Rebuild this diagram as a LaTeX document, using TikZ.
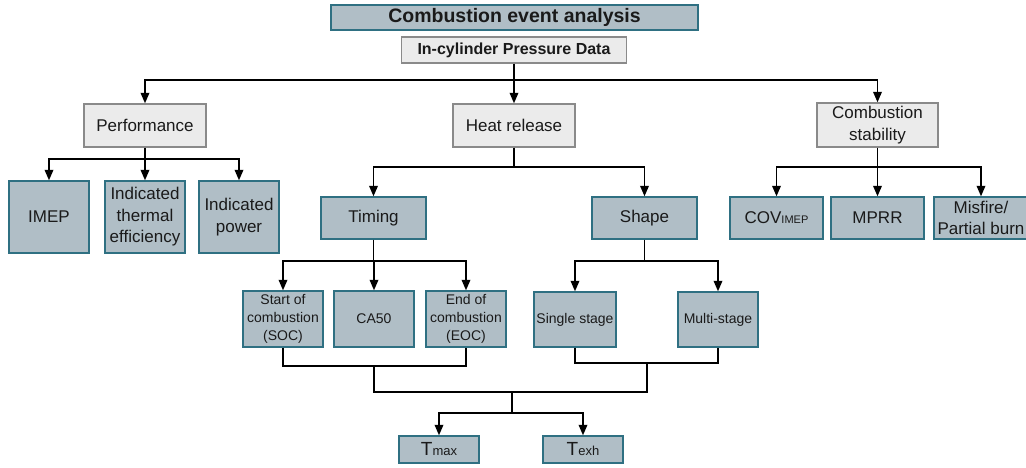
\documentclass[tikz,border=0pt]{standalone}
\usepackage{fontspec}
\setmainfont{Liberation Sans}
\usetikzlibrary{arrows.meta}
\definecolor{bluegray}{HTML}{B0BEC6}
\definecolor{tealborder}{HTML}{2F7082}
\definecolor{lightbox}{HTML}{EBEBEB}
\definecolor{grayborder}{HTML}{8A8A8A}
\definecolor{ink}{HTML}{1A1A1A}
\tikzset{
  bluebox/.style={draw=tealborder, fill=bluegray, line width=1.3pt, inner sep=0pt, align=center, text=ink},
  graybox/.style={draw=grayborder, fill=lightbox, line width=1.3pt, inner sep=0pt, align=center, text=ink},
  big/.style={font=\fontsize{17}{21.5}\selectfont},
  small/.style={font=\fontsize{14}{18}\selectfont},
  ln/.style={draw=black, line width=1.8pt},
  arr/.style={ln, -{Triangle[length=10.5pt,width=8.5pt]}},
  sz/.style 2 args={minimum width=#1pt, minimum height=#2pt}
}
\begin{document}
\begin{tikzpicture}[x=1pt,y=-1pt]
\useasboundingbox (0,0) rectangle (1026,468);
\clip (0,0) rectangle (1026,468);
% top
\node[bluebox, sz={367}{25}, font=\fontsize{19.5}{22}\selectfont\bfseries] (title) at (514.5,17.5) {Combustion event analysis};
\node[graybox, sz={225}{26}, font=\fontsize{16}{19}\selectfont\bfseries] (pdata) at (514,50) {In-cylinder Pressure Data};
% level 1
\node[graybox, big, sz={122}{43}] (perf) at (145,125.5) {Performance};
\node[graybox, big, sz={122}{43}] (heat) at (514,125.5) {Heat release};
\node[graybox, big, sz={121}{44}] (stab) at (877.5,125) {Combustion\\stability};
% performance children
\node[bluebox, big, sz={80}{72}] (imep) at (49,217) {IMEP};
\node[bluebox, big, sz={80}{72}] (ite) at (145,217) {Indicated\\thermal\\efficiency};
\node[bluebox, big, sz={80}{72}] (ipow) at (239,217) {Indicated\\power};
% heat children
\node[bluebox, big, sz={105}{42}] (timing) at (373.5,218) {Timing};
\node[bluebox, big, sz={105}{42}] (shape) at (644.5,218) {Shape};
% stability children
\node[bluebox, big, sz={93}{42}] (cov) at (776.5,218) {COV{\fontsize{11}{13}\selectfont IMEP}};
\node[bluebox, big, sz={93}{42}] (mprr) at (877.5,218) {MPRR};
\node[bluebox, big, sz={94}{42}] (misfire) at (981,218) {Misfire/\\Partial burn};
% timing children
\node[bluebox, small, sz={80}{56}] (soc) at (283,319) {Start of\\combustion\\(SOC)};
\node[bluebox, small, sz={80}{56}] (ca50) at (374,319) {CA50};
\node[bluebox, small, sz={80}{56}] (eoc) at (466,319) {End of\\combustion\\(EOC)};
% shape children
\node[bluebox, small, sz={82}{55}] (single) at (575,319.5) {Single stage};
\node[bluebox, small, sz={80}{55}] (multi) at (718,319.5) {Multi-stage};
% outputs
\node[bluebox, sz={80}{27}, font=\fontsize{19}{20}\selectfont] (tmax) at (439,449.5) {T{\fontsize{13}{15}\selectfont max}};
\node[bluebox, sz={80}{27}, font=\fontsize{19}{20}\selectfont] (texh) at (583,449.5) {T{\fontsize{13}{15}\selectfont exh}};
% junction coordinates
\coordinate (t0) at (514,80);
\coordinate (pj) at (145,159);
\coordinate (hj) at (514,167);
\coordinate (sj) at (877.5,167);
\coordinate (tj) at (373.5,261);
\coordinate (shj) at (644.5,261);
\coordinate (m1) at (374,366);
\coordinate (m2) at (647,363);
\coordinate (m3) at (512,392);
\coordinate (m4) at (512,413);
% connectors
\draw[ln] (pdata.south) -- (t0);
\draw[arr] (t0) -| (perf.north);
\draw[arr] (t0) -- (heat.north);
\draw[arr] (t0) -| (stab.north);
\draw[ln] (perf.south) -- (pj);
\draw[arr] (pj) -| (imep.north);
\draw[arr] (pj) -- (ite.north);
\draw[arr] (pj) -| (ipow.north);
\draw[ln] (heat.south) -- (hj);
\draw[arr] (hj) -| (timing.north);
\draw[arr] (hj) -| (shape.north);
\draw[ln] (stab.south) -- (sj);
\draw[arr] (sj) -| (cov.north);
\draw[arr] (sj) -- (mprr.north);
\draw[arr] (sj) -| (misfire.north);
\draw[ln] (timing.south) -- (tj);
\draw[arr] (tj) -| (soc.north);
\draw[arr] (tj) -| (ca50.north);
\draw[arr] (tj) -| (eoc.north);
\draw[ln] (shape.south) -- (shj);
\draw[arr] (shj) -| (single.north);
\draw[arr] (shj) -| (multi.north);
\draw[ln] (soc.south) |- (m1) -| (eoc.south);
\draw[ln] (single.south) |- (m2) -| (multi.south);
\draw[ln] (m1) |- (m3) -| (m2);
\draw[ln] (m3) -- (m4);
\draw[arr] (m4) -| (tmax.north);
\draw[arr] (m4) -| (texh.north);
\end{tikzpicture}
\end{document}
